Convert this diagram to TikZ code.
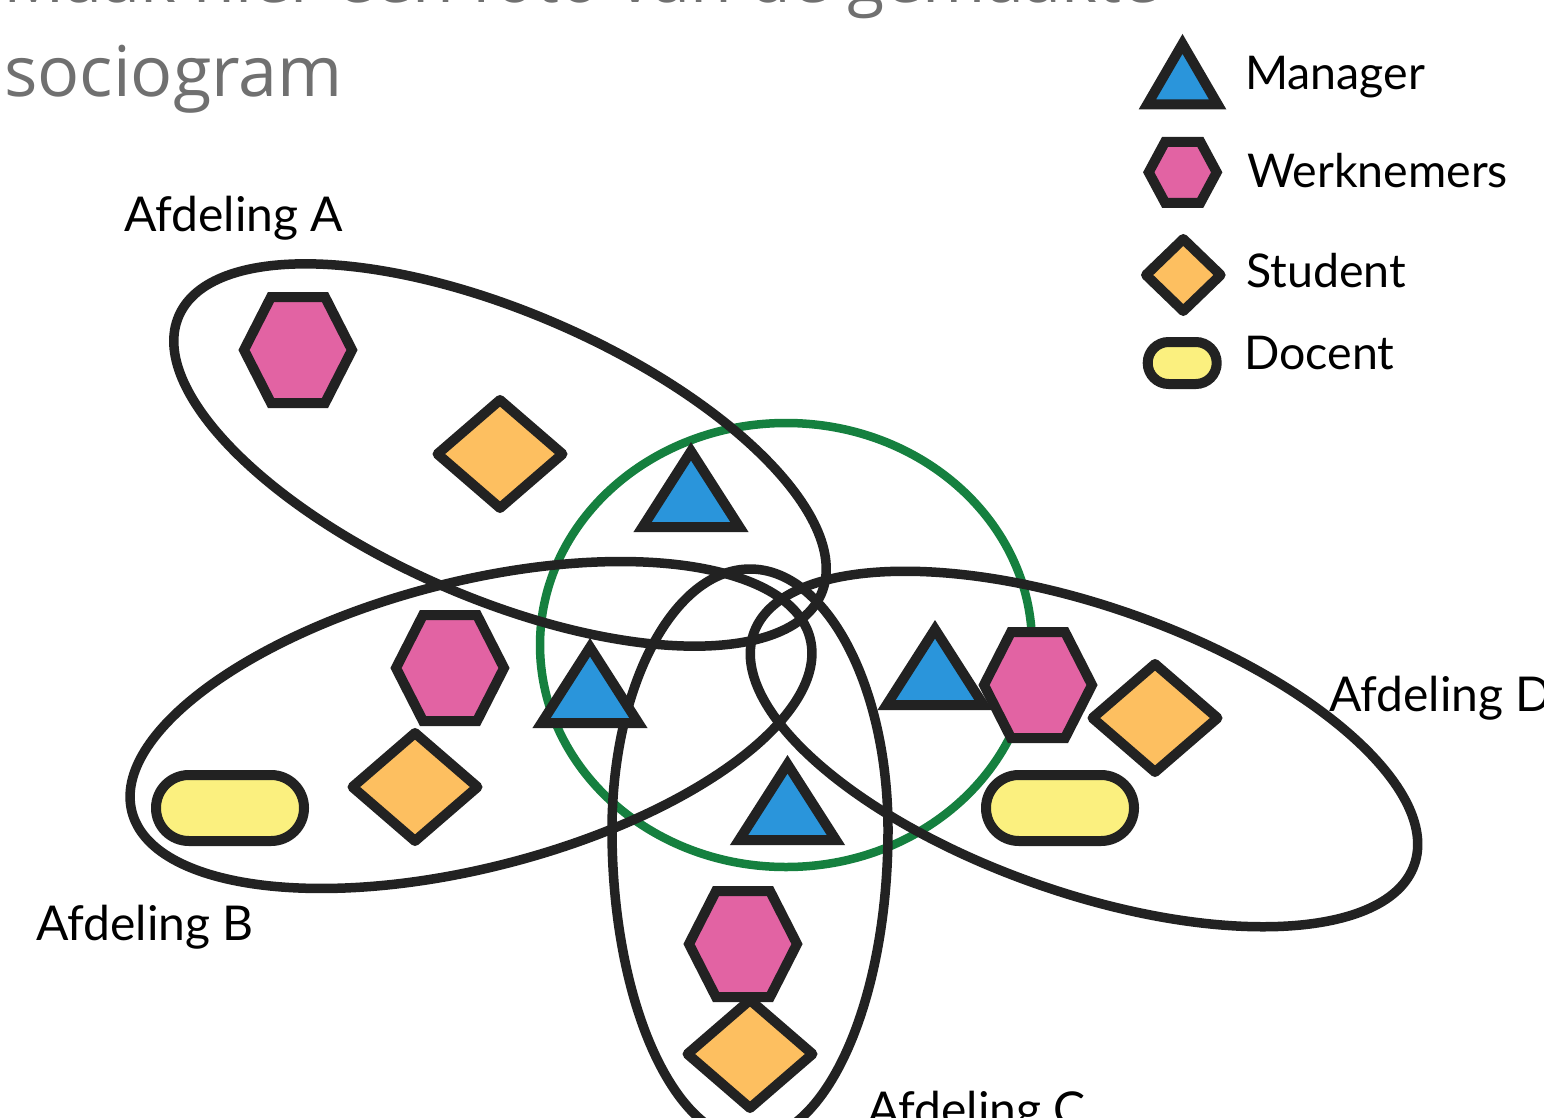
\documentclass[tikz,border=0pt]{standalone}
\usepackage{fontspec}
\setmainfont{Lato}
\newfontfamily\titlefont{Open Sans}
\definecolor{ink}{HTML}{222222}
\definecolor{mblue}{HTML}{2A95DB}
\definecolor{mpink}{HTML}{E263A3}
\definecolor{morange}{HTML}{FDBF60}
\definecolor{myellow}{HTML}{FBF07F}
\definecolor{mgreen}{HTML}{15803F}
\definecolor{tgray}{HTML}{707070}
\tikzset{
  shp/.style={draw=ink, line width=10pt},
  grp/.style={draw=ink, line width=9.5pt},
  ring/.style={draw=mgreen, line width=8.5pt},
  lbl/.style={anchor=base west, inner sep=0pt, font=\fontsize{48}{58}\selectfont, text=black},
  leg/.style={anchor=base west, inner sep=0pt, font=\fontsize{46.5}{56}\selectfont, text=black},
  ttl/.style={anchor=base west, inner sep=0pt, text=tgray},
  hexa/.pic={\path[shp, fill=mpink, line join=miter] (-54,0) -- (-27,-53) -- (27,-53) -- (54,0) -- (27,53) -- (-27,53) -- cycle;},
  leghexa/.pic={\path[shp, fill=mpink, line join=miter] (-34,0) -- (-17.6,-30.5) -- (17.6,-30.5) -- (34,0) -- (17.6,30.5) -- (-17.6,30.5) -- cycle;},
  diam/.pic={\path[shp, fill=morange, line join=round] (-62.5,0) -- (0,-54) -- (62.5,0) -- (0,54) -- cycle;},
  legdiam/.pic={\path[shp, fill=morange, line join=round] (-37.3,0) -- (0,-36) -- (37.3,0) -- (0,36) -- cycle;},
  tri/.pic={\path[shp, fill=mblue, line join=miter] (-48.4,-5) -- (0,-80.7) -- (48.4,-5) -- cycle;},
  legtri/.pic={\path[shp, fill=mblue, line join=miter] (-35.1,-5) -- (0,-65.4) -- (35.1,-5) -- cycle;},
  pill/.pic={\path[shp, fill=myellow, rounded corners=32.9pt] (-74,-33) rectangle (74,33);},
  legpill/.pic={\path[shp, fill=myellow, rounded corners=20.9pt] (-34.5,-21) rectangle (34.5,21);},
}
\begin{document}
\begin{tikzpicture}[x=1pt,y=-1pt]
\useasboundingbox (0,0) rectangle (1544,1118);
\fill[white] (0,0) rectangle (1544,1118);

% title
\node[ttl, font=\titlefont\fontsize{68}{82}\selectfont] (title1) at (3,3) {Maak hier een foto van de gemaakte};
\node[ttl, font=\titlefont\fontsize{70}{84}\selectfont] (title2) at (4,97) {sociogram};

% green circle (managers)
\draw[ring] (786,645) ellipse [x radius=246, y radius=222];

% departments
\draw[grp, rotate around={-23.4:(500,455)}] (500,455) ellipse [x radius=350, y radius=143];
\draw[grp, rotate around={14.35:(471,725)}] (471,725) ellipse [x radius=350, y radius=143];
\draw[grp, rotate around={-19.3:(1084,749)}] (1084,749) ellipse [x radius=350, y radius=143];
\draw[grp] (612,830) arc[start angle=180, end angle=0, x radius=138, y radius=310]
  arc[start angle=0, end angle=-180, x radius=138, y radius=261] -- cycle;

% members
\pic at (298,350) {hexa};
\pic at (500,454) {diam};
\pic at (691,532) {tri};

\pic at (450,668) {hexa};
\pic at (590,728) {tri};
\pic at (415,787) {diam};
\pic at (230,808) {pill};

\pic at (935,710) {tri};
\pic at (1038,685) {hexa};
\pic at (1155,718) {diam};
\pic at (1060,808) {pill};

\pic at (787.5,845) {tri};
\pic at (743,944) {hexa};
\pic at (750,1054) {diam};

% labels
\node[lbl] (labA) at (124,232) {Afdeling A};
\node[lbl] (labB) at (36,940) {Afdeling B};
\node[lbl] (labD) at (1329,711) {Afdeling D};
\node[lbl] (labC) at (867,1126) {Afdeling C};

% legend
\pic at (1182.5,109.3) {legtri};
\pic at (1182.7,172.3) {leghexa};
\pic at (1183.3,275) {legdiam};
\pic at (1182.2,363) {legpill};
\node[leg] (legM) at (1245,90) {Manager};
\node[leg] (legW) at (1247,188) {Werknemers};
\node[leg] (legS) at (1246,287) {Student};
\node[leg] (legD) at (1244,369) {Docent};
\end{tikzpicture}
\end{document}
